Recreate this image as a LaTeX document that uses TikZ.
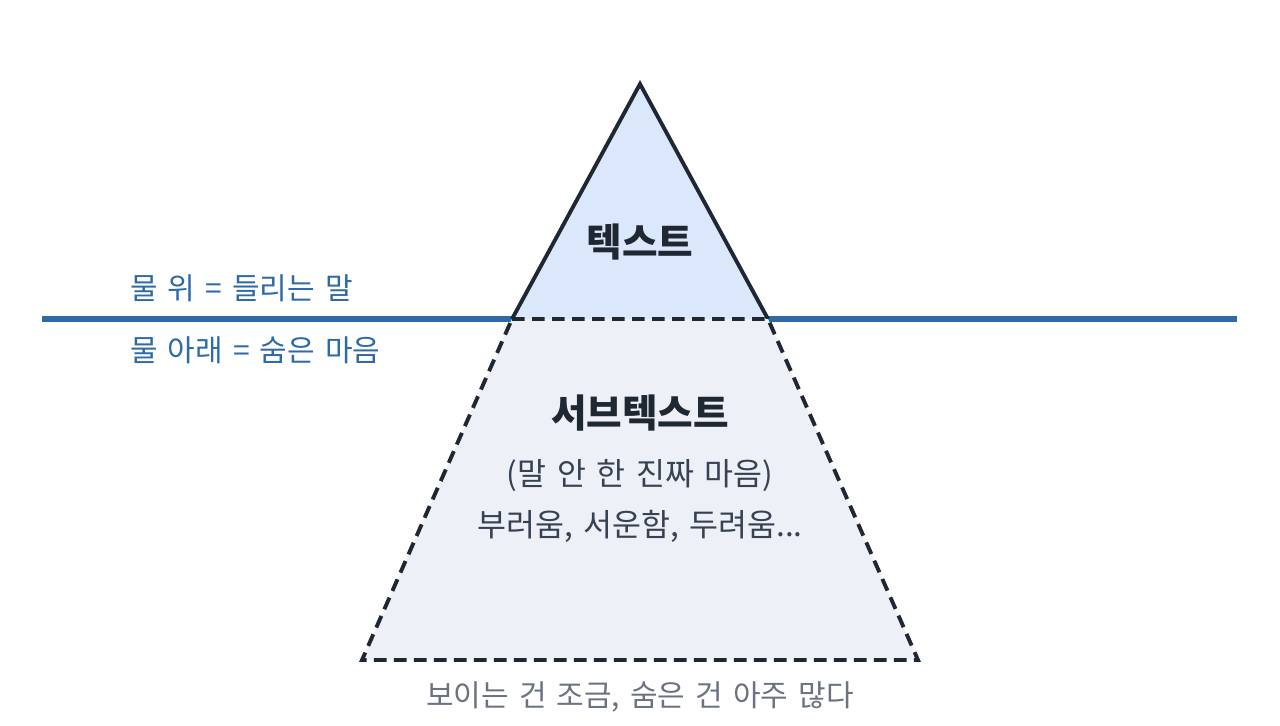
\documentclass[tikz,border=0pt]{standalone}
\usepackage{fontspec}
\setmainfont{Noto Sans CJK KR}[WordSpace=1.5]
\definecolor{outline}{HTML}{1F2733}
\definecolor{tipfill}{HTML}{DBE8FB}
\definecolor{basefill}{HTML}{EDF1F7}
\definecolor{water}{HTML}{2E6AA6}
\definecolor{bodytext}{HTML}{374151}
\definecolor{graytext}{HTML}{6B7280}
\tikzset{
  px/.style={x=0.75pt,y=-0.75pt},
  boldlabel/.style={font=\fontsize{29}{34}\selectfont\bfseries, text=outline, inner sep=0pt},
  innerlabel/.style={font=\fontsize{23.6}{28}\selectfont, text=bodytext, inner sep=0pt},
  sidelabel/.style={font=\fontsize{22.5}{27}\selectfont, text=water, inner sep=0pt, anchor=west},
  notelabel/.style={font=\fontsize{22.5}{27}\selectfont, text=graytext, inner sep=0pt},
  tipshape/.style={draw=outline, line width=2.9pt, line join=miter},
  baseshape/.style={fill=basefill, draw=outline, line width=2.9pt, dash pattern=on 9.5pt off 5.5pt},
  waterline/.style={draw=water, line width=3.8pt}
}
\begin{document}
\begin{tikzpicture}[px]
\useasboundingbox (0,0) rectangle (1280,725);
\coordinate (wl) at (42,319);
\coordinate (wr) at (1237,319);
\coordinate (apex) at (640,84);
\coordinate (tl) at (512,319);
\coordinate (tr) at (768,319);
\coordinate (bl) at (362,660);
\coordinate (br) at (918,660);
\draw[waterline] (wl) -- (wr);
\fill[tipfill] (tl) -- (apex) -- (tr) -- cycle;
\draw[tipshape] (tl) -- (apex) -- (tr);
\draw[baseshape] (tl) -- (tr) -- (br) -- (bl) -- cycle;
\node[boldlabel] (tip) at (640,242) {텍스트};
\node[boldlabel] (sub) at (640,413) {서브텍스트};
\node[innerlabel] (l1) at (640,476) {(말 안 한 진짜 마음)};
\node[innerlabel] (l2) at (640,526) {부러움, 서운함, 두려움...};
\node[sidelabel] (above) at (130,288) {물 위 = 들리는 말};
\node[sidelabel] (below) at (130,350) {물 아래 = 숨은 마음};
\node[notelabel] (note) at (640,697) {보이는 건 조금, 숨은 건 아주 많다};
\end{tikzpicture}
\end{document}
